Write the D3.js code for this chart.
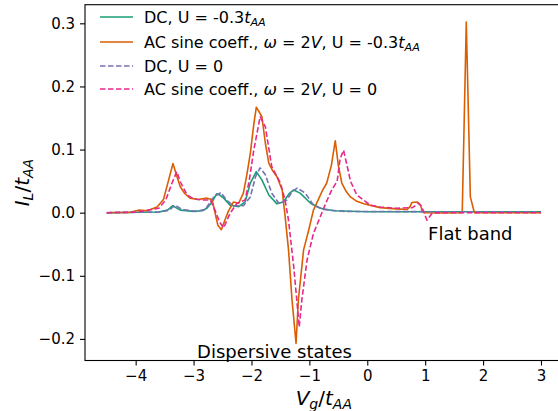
<!DOCTYPE html>
<html>
<meta charset="utf-8" />
<head>
<script src="https://cdnjs.cloudflare.com/ajax/libs/d3/7.8.5/d3.min.js"></script>
<style>
  body { margin: 0; background: #fff; }
  text { font-family: "DejaVu Sans", sans-serif; fill: #000; }
</style>
</head>
<body>
<script>
// ---- data ----
const xTicks = [-4, -3, -2, -1, 0, 1, 2, 3];
const xTickLabels = ["\u22124", "\u22123", "\u22122", "\u22121", "0", "1", "2", "3"];
const yTicks = [-0.2, -0.1, 0, 0.1, 0.2, 0.3];
const yTickLabels = ["\u22120.2", "\u22120.1", "0.0", "0.1", "0.2", "0.3"];

// DC, U = -0.3 t_AA
const dcU03X = [-4.5, -3.6, -3.45, -3.36, -3.23, -3.0, -2.85, -2.77, -2.68, -2.6, -2.55, -2.48, -2.37, -2.22, -2.11, -2.02, -1.917, -1.82, -1.7, -1.56, -1.45, -1.35, -1.27, -1.16, -0.98, -0.81, -0.58, 0, 3.0];
const dcU03Y = [0, 0.001, 0.004, 0.011, 0.004, 0.002, 0.003, 0.007, 0.017, 0.03, 0.028, 0.023, 0.012, 0.0095, 0.017, 0.047, 0.065, 0.052, 0.028, 0.014, 0.017, 0.03, 0.036, 0.031, 0.015, 0.007, 0.003, 0.0015, 0.0015];

// AC sine coeff., w = 2V, U = -0.3 t_AA
const acU03X = [-4.5, -4.1, -3.95, -3.8, -3.63, -3.52, -3.43, -3.356, -3.29, -3.23, -3.15, -3.06, -2.92, -2.77, -2.68, -2.63, -2.58, -2.52, -2.46, -2.4, -2.31, -2.22, -2.14, -2.08, -2.02, -1.96, -1.917, -1.87, -1.82, -1.76, -1.7, -1.63, -1.56, -1.47, -1.42, -1.36, -1.3, -1.23, -1.19, -1.1, -1.01, -0.93, -0.85, -0.78, -0.7, -0.62, -0.553, -0.5, -0.44, -0.36, -0.29, -0.18, -0.06, 0.22, 0.5, 0.69, 0.74, 0.77, 0.86, 0.92, 0.95, 1.0, 1.3, 1.64, 1.71, 1.78, 1.85, 2.2, 3.0];
const acU03Y = [0, 0.0005, 0.004, 0.003, 0.009, 0.021, 0.052, 0.078, 0.058, 0.041, 0.03, 0.023, 0.021, 0.023, 0.021, 0.0, -0.02, -0.027, -0.012, 0.002, 0.017, 0.015, 0.031, 0.06, 0.094, 0.14, 0.167, 0.16, 0.152, 0.11, 0.078, 0.066, 0.057, 0.036, -0.005, -0.059, -0.138, -0.207, -0.138, -0.059, -0.027, 0.004, 0.02, 0.034, 0.047, 0.075, 0.114, 0.075, 0.047, 0.033, 0.025, 0.018, 0.014, 0.008, 0.006, 0.005, 0.01, 0.016, 0.017, 0.012, 0.002, 0.0, -0.0005, 0.0, 0.302, 0.025, 0.0, 0.0, 0.0];

// DC, U = 0
const dcU0X = [-4.5, -3.6, -3.42, -3.32, -3.2, -2.95, -2.8, -2.65, -2.53, -2.43, -2.31, -2.14, -2.02, -1.93, -1.85, -1.76, -1.65, -1.53, -1.39, -1.3, -1.21, -1.07, -0.93, -0.75, -0.4, 3.0];
const dcU0Y = [0, 0.001, 0.004, 0.012, 0.005, 0.002, 0.005, 0.025, 0.032, 0.02, 0.011, 0.011, 0.025, 0.057, 0.071, 0.06, 0.031, 0.015, 0.02, 0.033, 0.039, 0.031, 0.012, 0.005, 0.002, 0.001];

// AC sine coeff., w = 2V, U = 0
const acU0X = [-4.5, -4.0, -3.85, -3.6, -3.48, -3.38, -3.29, -3.23, -3.11, -3.0, -2.85, -2.71, -2.63, -2.55, -2.48, -2.37, -2.25, -2.11, -2.04, -1.96, -1.85, -1.76, -1.65, -1.5, -1.42, -1.36, -1.27, -1.175, -1.13, -1.04, -0.93, -0.81, -0.73, -0.62, -0.52, -0.47, -0.41, -0.35, -0.29, -0.18, 0.05, 0.22, 0.5, 0.78, 0.89, 0.94, 1.03, 1.12, 1.3, 3.0];
const acU0Y = [0, 0.001, 0.003, 0.007, 0.02, 0.045, 0.065, 0.049, 0.028, 0.022, 0.02, 0.02, 0.004, -0.015, -0.024, -0.001, 0.015, 0.02, 0.05, 0.099, 0.152, 0.136, 0.073, 0.047, 0.02, -0.012, -0.086, -0.181, -0.138, -0.075, -0.033, -0.006, 0.012, 0.035, 0.05, 0.085, 0.099, 0.075, 0.05, 0.028, 0.012, 0.009, 0.007, 0.008, 0.015, 0.0095, -0.012, -0.001, 0, 0];

const seriesNames = ["dcU03", "acU03", "dcU0", "acU0"];
const seriesColors = ["#1b9e77", "#d95f02", "#7570b3", "#e7298a"];
const seriesDashed = [false, false, true, true];
const seriesX = [dcU03X, acU03X, dcU0X, acU0X];
const seriesY = [dcU03Y, acU03Y, dcU0Y, acU0Y];

// ---- layout ----
const width = 558, height = 411;
const plot = { left: 85, right: 562.7, top: 4.7, bottom: 360.5 };

const svg = d3.select("body").append("svg")
  .attr("width", width)
  .attr("height", height);

const x = d3.scaleLinear().domain([-4.875, 3.375]).range([plot.left, plot.right]);
const y = d3.scaleLinear().domain([-0.2342, 0.3295]).range([plot.bottom, plot.top]);

// lines
const line = d3.line()
  .x(d => x(d[0]))
  .y(d => y(d[1]));

seriesNames.forEach((name, i) => {
  const pts = seriesX[i].map((v, j) => [v, seriesY[i][j]]);
  svg.append("path")
    .datum(pts)
    .attr("class", "line " + name)
    .attr("fill", "none")
    .attr("stroke", seriesColors[i])
    .attr("stroke-width", 1.6)
    .attr("stroke-linejoin", "round")
    .attr("stroke-dasharray", seriesDashed[i] ? "5.5,2.5" : null)
    .attr("d", line);
});

// axes
const xAxis = d3.axisBottom(x)
  .tickValues(xTicks)
  .tickFormat((d, i) => xTickLabels[i])
  .tickSizeInner(5)
  .tickSizeOuter(0)
  .tickPadding(5);

const yAxis = d3.axisLeft(y)
  .tickValues(yTicks)
  .tickFormat((d, i) => yTickLabels[i])
  .tickSizeInner(5)
  .tickSizeOuter(0)
  .tickPadding(5);

const gx = svg.append("g")
  .attr("transform", `translate(0,${plot.bottom})`)
  .call(xAxis);
const gy = svg.append("g")
  .attr("transform", `translate(${plot.left},0)`)
  .call(yAxis);

[gx, gy].forEach(g => {
  g.select(".domain").remove();
  g.selectAll(".tick line").attr("stroke", "#000").attr("stroke-width", 1.1);
  g.selectAll(".tick text")
    .style("font-family", "DejaVu Sans")
    .style("font-size", "15px")
    .attr("fill", "#000");
});

// spines
svg.append("rect")
  .attr("x", plot.left)
  .attr("y", plot.top)
  .attr("width", plot.right - plot.left)
  .attr("height", plot.bottom - plot.top)
  .attr("fill", "none")
  .attr("stroke", "#000")
  .attr("stroke-width", 1.1);

// axis labels
const xl = svg.append("text")
  .attr("x", (plot.left + plot.right) / 2)
  .attr("y", 405)
  .attr("text-anchor", "middle")
  .style("font-size", "20px");
xl.append("tspan").style("font-style", "italic").text("V");
xl.append("tspan").style("font-style", "italic").style("font-size", "14px").attr("dy", 4).text("g");
xl.append("tspan").attr("dy", -4).text("/");
xl.append("tspan").style("font-style", "italic").text("t");
xl.append("tspan").style("font-style", "italic").style("font-size", "14px").attr("dy", 4).text("AA");

const yl = svg.append("text")
  .attr("transform", `translate(29,${(plot.top + plot.bottom) / 2}) rotate(-90)`)
  .attr("text-anchor", "middle")
  .style("font-size", "20px");
yl.append("tspan").style("font-style", "italic").text("I");
yl.append("tspan").style("font-style", "italic").style("font-size", "14px").attr("dy", 4).text("L");
yl.append("tspan").attr("dy", -4).text("/");
yl.append("tspan").style("font-style", "italic").text("t");
yl.append("tspan").style("font-style", "italic").style("font-size", "14px").attr("dy", 4).text("AA");

// annotations
svg.append("text")
  .attr("x", x(1.05))
  .attr("y", y(-0.043))
  .style("font-size", "18px")
  .text("Flat band");
svg.append("text")
  .attr("x", x(-2.94))
  .attr("y", y(-0.231))
  .style("font-size", "18px")
  .text("Dispersive states");

// legend
const legendRows = [
  [["DC, U = -0.3", ""], ["t", "i"], ["AA", "s"]],
  [["AC sine coeff., ", ""], ["\u03c9", "i"], [" = 2", ""], ["V", "i"], [", U = -0.3", ""], ["t", "i"], ["AA", "s"]],
  [["DC, U = 0", ""]],
  [["AC sine coeff., ", ""], ["\u03c9", "i"], [" = 2", ""], ["V", "i"], [", U = 0", ""]]
];
const legendY = [17, 42, 66, 89];
const legend = svg.append("g");
legendRows.forEach((parts, i) => {
  legend.append("line")
    .attr("x1", 100).attr("x2", 133)
    .attr("y1", legendY[i]).attr("y2", legendY[i])
    .attr("stroke", seriesColors[i])
    .attr("stroke-width", 1.6)
    .attr("stroke-dasharray", seriesDashed[i] ? "5.5,2.5" : null);
  const t = legend.append("text")
    .attr("x", 144)
    .attr("y", legendY[i] + 5.5)
    .style("font-size", "16px");
  let sub = false;
  parts.forEach(([s, kind]) => {
    const ts = t.append("tspan").text(s);
    if (kind === "i" || kind === "s") ts.style("font-style", "italic");
    if (kind === "s") {
      ts.style("font-size", "11.2px").attr("dy", 3.5);
      sub = true;
    } else if (sub) {
      ts.attr("dy", -3.5);
      sub = false;
    }
  });
});
</script>
</body>
</html>
